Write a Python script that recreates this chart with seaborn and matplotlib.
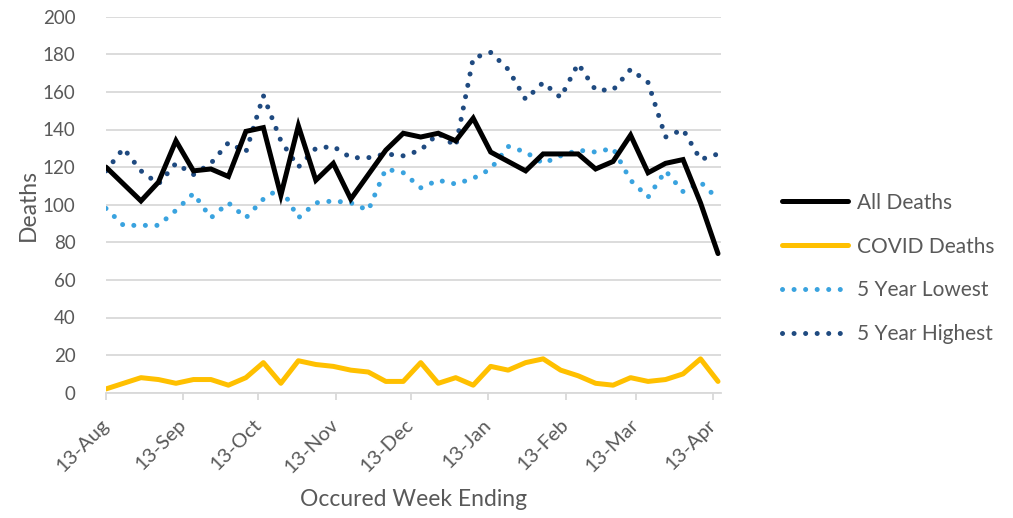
import numpy as np
import pandas as pd
import matplotlib
matplotlib.use("Agg")
import matplotlib.pyplot as plt
import matplotlib.dates as mdates
from matplotlib.lines import Line2D
import seaborn as sns

# ---- data ----
start_date = "2020-08-13"
n_weeks = 36
all_deaths = [120, 111, 102, 112, 134, 118, 119, 115, 139, 141, 105, 142, 113, 122, 103, 116, 129, 138,
              136, 138, 134, 146, 128, 123, 118, 127, 127, 127, 119, 123, 137, 117, 122, 124, 101, 74]
covid_deaths = [2, 5, 8, 7, 5, 7, 7, 4, 8, 16, 5, 17, 15, 14, 12, 11, 6, 6,
                16, 5, 8, 4, 14, 12, 16, 18, 12, 9, 5, 4, 8, 6, 7, 10, 18, 6]
five_year_lowest = [98, 89, 89, 89, 97, 106, 93, 101, 93, 103, 109, 93, 101, 102, 101, 97, 119, 117,
                    109, 113, 111, 114, 119, 131, 128, 122, 126, 129, 128, 130, 113, 104, 118, 107, 112, 103]
five_year_highest = [118, 130, 118, 111, 122, 116, 122, 133, 128, 158, 134, 120, 130, 131, 125, 125, 127, 126,
                     129, 138, 131, 178, 181, 172, 156, 165, 157, 175, 161, 161, 172, 165, 136, 140, 124, 127]
series_names = ["All Deaths", "COVID Deaths", "5 Year Lowest", "5 Year Highest"]
y_ticks = [0, 20, 40, 60, 80, 100, 120, 140, 160, 180, 200]

dates = pd.date_range(start_date, periods=n_weeks, freq="7D")
df = pd.DataFrame({"date": dates,
                   "All Deaths": all_deaths,
                   "COVID Deaths": covid_deaths,
                   "5 Year Lowest": five_year_lowest,
                   "5 Year Highest": five_year_highest})

sns.set_theme(style="white")
plt.rcParams["font.family"] = ["Lato", "DejaVu Sans"]

gray_text = "#595959"
grid_col = "#d9d9d9"
colors = {"All Deaths": "#000000", "COVID Deaths": "#FFC000",
          "5 Year Lowest": "#3AA3DF", "5 Year Highest": "#1F4A80"}

fig = plt.figure(figsize=(10.13, 5.18), dpi=100)
ax = fig.add_axes([106 / 1013, 1 - 392.7 / 518, (721 - 106) / 1013, (392.7 - 16.7) / 518])

dot_style = (0, (0.01, 2.3))
sns.lineplot(data=df, x="date", y="5 Year Lowest", ax=ax, color=colors["5 Year Lowest"],
             linewidth=3.6, linestyle=dot_style, dash_capstyle="round")
sns.lineplot(data=df, x="date", y="5 Year Highest", ax=ax, color=colors["5 Year Highest"],
             linewidth=3.6, linestyle=dot_style, dash_capstyle="round")
sns.lineplot(data=df, x="date", y="All Deaths", ax=ax, color=colors["All Deaths"],
             linewidth=3.6, solid_joinstyle="miter")
sns.lineplot(data=df, x="date", y="COVID Deaths", ax=ax, color=colors["COVID Deaths"],
             linewidth=3.6, solid_joinstyle="round")

# axes
ax.set_ylim(0, 200)
ax.set_yticks(y_ticks)
x0 = pd.Timestamp(start_date)
ax.set_xlim(x0, x0 + pd.Timedelta(days=246.2))
ax.xaxis.set_major_locator(mdates.DayLocator(bymonthday=13))
ax.xaxis.set_major_formatter(mdates.DateFormatter("%d-%b"))

ax.grid(axis="y", color=grid_col, linewidth=1.3)
ax.grid(axis="x", visible=False)
ax.set_axisbelow(True)
for s in ["left", "right", "top"]:
    ax.spines[s].set_visible(False)
ax.spines["bottom"].set_color(grid_col)
ax.spines["bottom"].set_linewidth(1.3)

ax.tick_params(axis="y", length=0, pad=22, labelsize=13.5, labelcolor=gray_text)
ax.tick_params(axis="x", direction="out", length=5, width=1.3, color=grid_col,
               labelsize=14.5, labelcolor=gray_text, pad=16, bottom=True)
for lab in ax.get_xticklabels():
    lab.set_rotation(45)
    lab.set_ha("right")
    lab.set_va("center")
    lab.set_rotation_mode("anchor")

ax.set_ylabel("Deaths", fontsize=16.5, color=gray_text, va="center")
ax.yaxis.set_label_coords((28 - 106) / 615, 0.5)
ax.set_xlabel("Occured Week Ending", fontsize=16.5, color=gray_text, va="center")
ax.xaxis.set_label_coords(0.5, (392.7 - 500) / 376)

handles = [
    Line2D([], [], color=colors["All Deaths"], linewidth=3.6, solid_capstyle="round"),
    Line2D([], [], color=colors["COVID Deaths"], linewidth=3.6, solid_capstyle="round"),
    Line2D([], [], color=colors["5 Year Lowest"], linewidth=3.6, linestyle=dot_style,
           dash_capstyle="round"),
    Line2D([], [], color=colors["5 Year Highest"], linewidth=3.6, linestyle=dot_style,
           dash_capstyle="round"),
]
leg = fig.legend(handles, series_names, loc="center left", bbox_to_anchor=(763 / 1013, 1 - 268.5 / 518),
                 frameon=False, fontsize=15, handlelength=3.2, handletextpad=0.4,
                 labelspacing=1.15, labelcolor=gray_text)

fig.savefig("out.png", dpi=100)
